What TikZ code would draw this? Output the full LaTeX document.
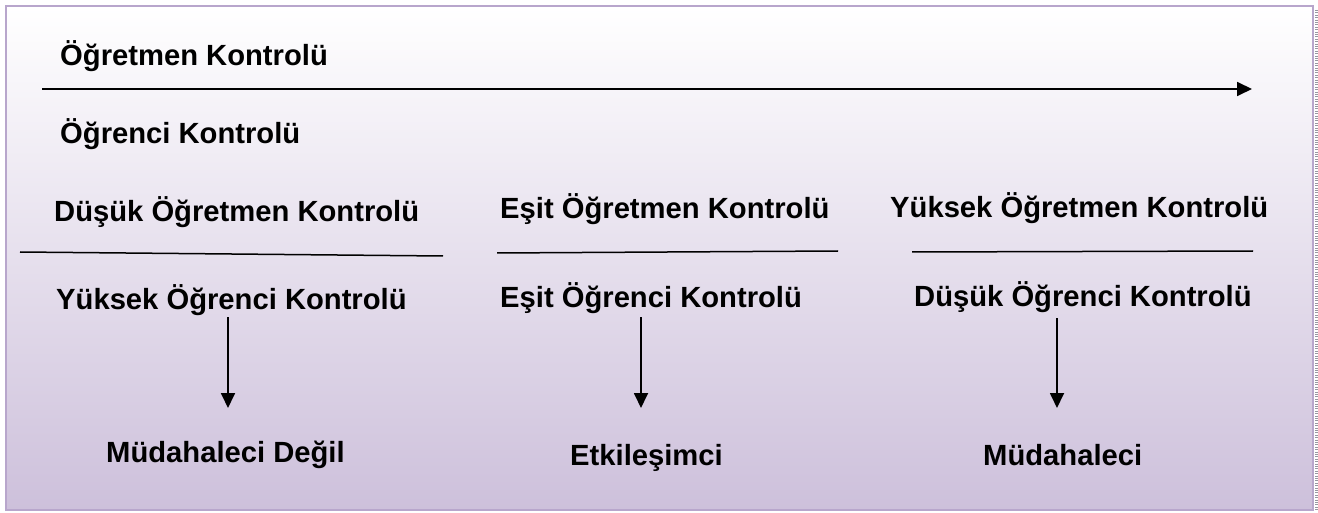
\documentclass[tikz,border=0pt]{standalone}
\usepackage{fontspec}
\setmainfont{Liberation Sans}
\usetikzlibrary{arrows.meta}
\definecolor{frameC}{RGB}{184,166,204}
\definecolor{bottomC}{RGB}{205,192,219}
\definecolor{topC}{RGB}{255,255,255}
\definecolor{edgeC}{RGB}{150,150,160}
\tikzset{
  lbl/.style={font=\fontsize{29.2}{34}\selectfont\bfseries, inner sep=0pt, anchor=base west},
  conn/.style={line width=1.8pt, -{Triangle[length=15pt,width=14pt]}},
  rule/.style={line width=1.5pt}
}
\begin{document}
\begin{tikzpicture}[x=1pt,y=-1pt]
\useasboundingbox (0,0) rectangle (1318,513);
\shade[top color=topC, bottom color=bottomC] (6,6) rectangle (1313,510);
\draw[frameC, line width=2.5pt] (6,6) rectangle (1313,510);
\draw[edgeC, line width=3pt, dash pattern=on 0.8pt off 1.6pt] (1316,10) -- (1316,510);

\node[lbl] (tc) at (60,66) {Öğretmen Kontrolü};
\node[lbl] (sc) at (60,144) {Öğrenci Kontrolü};
\coordinate (ms) at (42,89);
\coordinate (me) at (1252,89);
\draw[conn] (ms) -- (me);

\node[lbl] (dt) at (54,222) {Düşük Öğretmen Kontrolü};
\node[lbl] (et) at (500,219) {Eşit Öğretmen Kontrolü};
\node[lbl] (yt) at (890,218) {Yüksek Öğretmen Kontrolü};

\coordinate (l1a) at (20,252); \coordinate (l1b) at (443,256);
\coordinate (l2a) at (497,253); \coordinate (l2b) at (838,251);
\coordinate (l3a) at (912,252); \coordinate (l3b) at (1253,251);
\draw[rule] (l1a) -- (l1b);
\draw[rule] (l2a) -- (l2b);
\draw[rule] (l3a) -- (l3b);

\node[lbl] (ys) at (56,309) {Yüksek Öğrenci Kontrolü};
\node[lbl] (es) at (500,307) {Eşit Öğrenci Kontrolü};
\node[lbl] (ds) at (914,306) {Düşük Öğrenci Kontrolü};

\node[lbl] (r1) at (106,462) {Müdahaleci Değil};
\node[lbl] (r2) at (570,465) {Etkileşimci};
\node[lbl] (r3) at (983,465) {Müdahaleci};

\coordinate (a1s) at (228,317); \coordinate (a1e) at (228,408);
\coordinate (a2s) at (641,317); \coordinate (a2e) at (641,408);
\coordinate (a3s) at (1057,318); \coordinate (a3e) at (1057,408);
\draw[conn] (a1s) -- (a1e);
\draw[conn] (a2s) -- (a2e);
\draw[conn] (a3s) -- (a3e);
\end{tikzpicture}
\end{document}
